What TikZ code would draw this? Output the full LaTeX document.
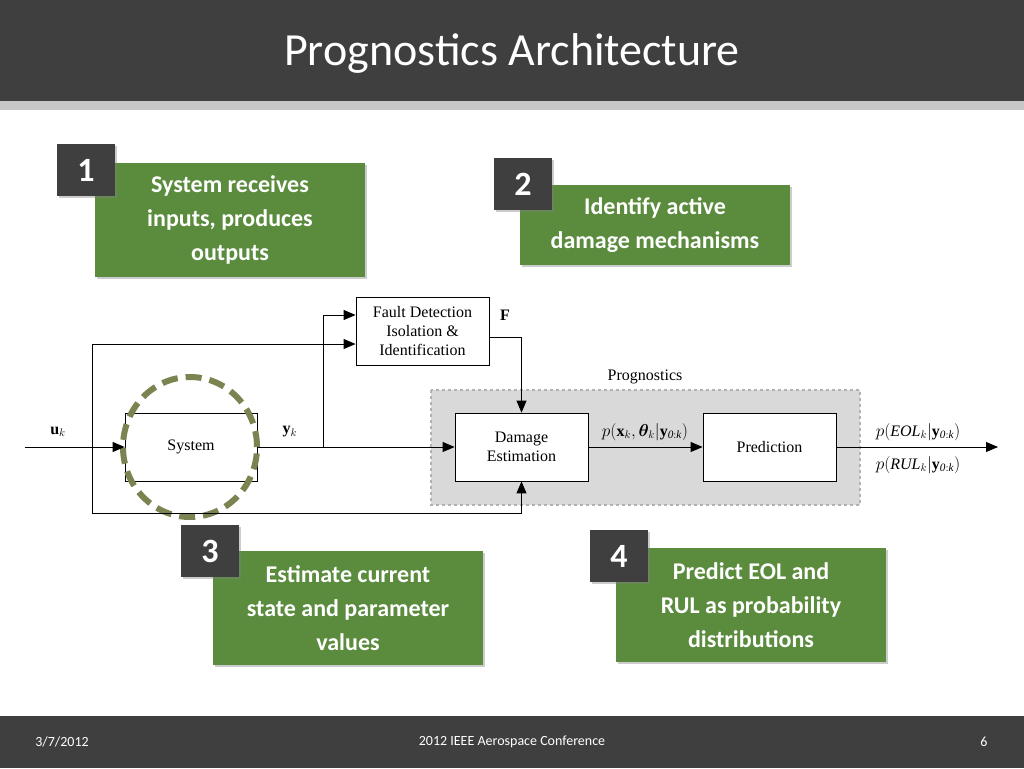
\documentclass[tikz,border=0pt]{standalone}
\usepackage{amsmath,bm}
\usepackage{fontspec}
\setmainfont{Liberation Serif}
\newfontfamily\carl{Carlito}
\usetikzlibrary{arrows.meta,shadows}
\definecolor{hdr}{HTML}{3F3F3F}
\definecolor{grn}{HTML}{5B8C3E}
\definecolor{olv}{HTML}{7A8450}
\begin{document}
\begin{tikzpicture}[x=1pt,y=-1pt,
  blk/.style={draw,fill=white,line width=0.8pt,minimum width=133pt,minimum height=68pt,align=center,font=\fontsize{16}{19}\selectfont},
  ln/.style={line width=0.9pt},
  ar/.style={ln,-{Triangle[length=12pt,width=10pt]}},
  badge/.style={fill=hdr,text=white,minimum width=58pt,minimum height=52pt,font=\carl\bfseries\fontsize{34}{34}\selectfont,drop shadow={shadow xshift=2pt,shadow yshift=-2pt,opacity=0.4}},
  gbox/.style={fill=grn,text=white,align=center,font=\carl\bfseries\fontsize{24}{34}\selectfont,drop shadow={shadow xshift=2pt,shadow yshift=-2pt,opacity=0.4}},
  lab/.style={font=\fontsize{16}{19}\selectfont}]
\useasboundingbox (0,0) rectangle (1024,768);
\fill[white] (0,0) rectangle (1024,768);
\fill[hdr] (0,0) rectangle (1024,101);
\fill[black!22] (0,101) rectangle (1024,110);
\node[text=white,font=\carl\fontsize{46}{46}\selectfont] (title) at (512,53) {Prognostics Architecture};
\fill[hdr] (0,716) rectangle (1024,768);
\node[text=white,font=\carl\fontsize{14}{14}\selectfont] (d) at (62,742) {3/7/2012};
\node[text=white,font=\carl\fontsize{14}{14}\selectfont] (c) at (512,742) {2012 IEEE Aerospace Conference};
\node[text=white,font=\carl\fontsize{14}{14}\selectfont] (p) at (984,742) {6};
% green boxes
\node[gbox,minimum width=270pt,minimum height=114pt] (g1) at (230,220) {System receives\\inputs, produces\\outputs};
\node[gbox,minimum width=270pt,minimum height=80pt] (g2) at (655,225) {Identify active\\damage mechanisms};
\node[gbox,minimum width=270pt,minimum height=114pt] (g3) at (348,608) {Estimate current\\state and parameter\\values};
\node[gbox,minimum width=270pt,minimum height=114pt] (g4) at (751,605) {Predict EOL and\\RUL as probability\\distributions};
\node[badge] (b1) at (86,170) {1};
\node[badge] (b2) at (523,184) {2};
\node[badge] (b3) at (210,551) {3};
\node[badge] (b4) at (619,556) {4};
% diagram
\fill[black!15] (431,390) rectangle (860,505);
\draw[black!30,dashed,line width=1.2pt] (431,390) rectangle (860,505);
\node[lab] (prog) at (645,377) {Prognostics};
\node[blk] (fdi) at (422.5,331.5) {Fault Detection\\Isolation \&\\Identification};
\node[blk,minimum width=132pt] (sys) at (191,447) {System};
\node[blk] (dam) at (521.5,447) {Damage\\Estimation};
\node[blk] (pred) at (769.5,447) {Prediction};
\draw[olv,line width=6pt,dash pattern=on 16pt off 8pt] (190,447) ellipse [x radius=67pt,y radius=70pt];
\coordinate (in) at (25,447);
\coordinate (out) at (998,447);
\coordinate (br) at (92,447);
\coordinate (yb) at (323,447);
\draw[ar] (in) -- (sys.west);
\draw[ar] (sys.east) -- (dam.west);
\draw[ar] (dam.east) -- (pred.west);
\draw[ar] (pred.east) -- (out);
\draw[ar] (br) |- ([yshift=-12.5pt]fdi.west);
\draw[ar] (yb) |- ([yshift=16.5pt]fdi.west);
\draw[ar] (br) |- (521.5,513) -- (dam.south);
\draw[ar] ([yshift=-6pt]fdi.east) -| (dam.north);
\node[lab] (uk) at (58,432) {$\mathbf{u}_k$};
\node[lab] (yk) at (290,432) {$\mathbf{y}_k$};
\node[lab] (F) at (505,315) {$\mathbf{F}$};
\node[lab] (px) at (645,432) {$p(\mathbf{x}_k,\bm{\theta}_k|\mathbf{y}_{\mathit{0:k}})$};
\node[lab] (peol) at (918,432) {$p(\mathit{EOL}_k|\mathbf{y}_{\mathit{0:k}})$};
\node[lab] (prul) at (918,465) {$p(\mathit{RUL}_k|\mathbf{y}_{\mathit{0:k}})$};
\end{tikzpicture}
\end{document}
